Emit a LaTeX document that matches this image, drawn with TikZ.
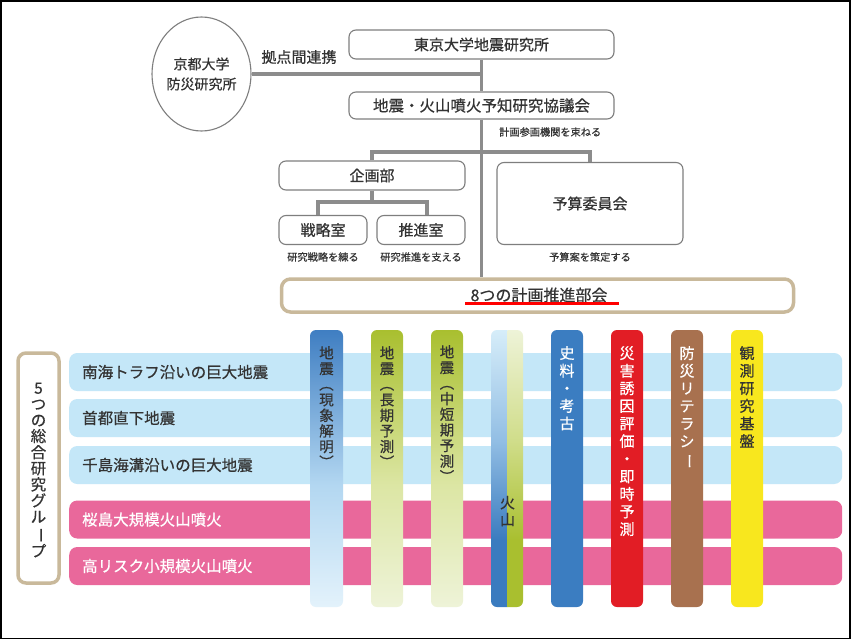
\documentclass[tikz,border=0pt]{standalone}
\usepackage{fontspec}
\setmainfont{Noto Sans CJK JP}[FakeBold=0.6]
\usepackage{graphicx}
\usetikzlibrary{shapes.geometric}
\definecolor{txt}{HTML}{333333}
\definecolor{boxgray}{HTML}{7E7E7E}
\definecolor{conngray}{HTML}{8C8C8C}
\definecolor{tanc}{HTML}{C9B99B}
\definecolor{rowblue}{HTML}{C4E7F8}
\definecolor{rowpink}{HTML}{E9689B}
\definecolor{cAtop}{HTML}{3F7EC2}
\definecolor{cAmid}{HTML}{B3D7F1}
\definecolor{cAbot}{HTML}{E3F2FB}
\definecolor{gTop}{HTML}{A9BF2F}
\definecolor{gMid}{HTML}{DCE6A4}
\definecolor{gBot}{HTML}{EEF3D8}
\definecolor{vBlue}{HTML}{3A7BBF}
\definecolor{vBmid}{HTML}{92BEE4}
\definecolor{vBtop}{HTML}{D6EDF9}
\definecolor{vGmid}{HTML}{D0DD8A}
\definecolor{cE}{HTML}{3B7DC1}
\definecolor{cF}{HTML}{E21D25}
\definecolor{cG}{HTML}{A8714F}
\definecolor{cH}{HTML}{F8E71E}
% path is fitted to the 25bp..75bp band of a shading
\pgfdeclareverticalshading{shA}{100bp}{color(0bp)=(cAbot); color(25bp)=(cAbot); color(47bp)=(cAmid); color(75bp)=(cAtop); color(100bp)=(cAtop)}
\pgfdeclareverticalshading{shG}{100bp}{color(0bp)=(gBot); color(25bp)=(gBot); color(47bp)=(gMid); color(75bp)=(gTop); color(100bp)=(gTop)}
\pgfdeclareverticalshading{shVL}{100bp}{color(0bp)=(vBlue); color(37bp)=(vBlue); color(55bp)=(vBmid); color(75bp)=(vBtop); color(100bp)=(vBtop)}
\pgfdeclareverticalshading{shVR}{100bp}{color(0bp)=(gTop); color(37bp)=(gTop); color(55bp)=(vGmid); color(75bp)=(gBot); color(100bp)=(gBot)}
\newcommand\tpl{\rotatebox[origin=c]{-90}{（}}
\newcommand\tpr{\rotatebox[origin=c]{-90}{）}}
\newcommand\tbar{\rotatebox[origin=c]{-90}{ー}}
\begin{document}
\begin{tikzpicture}[x=1pt,y=-1pt,
  box/.style={draw=boxgray, line width=1.1pt, rounded corners=7pt, fill=white, inner sep=0pt, text=txt, font=\fontsize{15}{18}\selectfont},
  conn/.style={draw=conngray, line width=3.2pt},
  note/.style={inner sep=0pt, text=txt, font=\fontsize{10.2}{12}\selectfont},
  tanbox/.style={draw=tanc, line width=3.5pt, rounded corners=9pt, fill=white, inner sep=0pt},
  row/.style={rounded corners=8pt, minimum height=38pt, minimum width=773pt, anchor=west, inner xsep=13pt, inner ysep=0pt, text width=747pt, align=left, font=\fontsize{15.5}{18}\selectfont},
  vcolA/.style={inner sep=0pt, align=center, anchor=north, font=\fontsize{14.5}{15.6}\selectfont},
  vcolB/.style={inner sep=0pt, align=center, anchor=north, font=\fontsize{15}{17.6}\selectfont}
]
\useasboundingbox (0,0) rectangle (853,640);
\fill[white] (0,0) rectangle (853,640);
\draw[black, line width=1.6pt] (0.8,0.8) rectangle (850,638.4);

% top organisation
\node[box, minimum width=265pt, minimum height=29pt] (tokyo) at (481.5,44.5) {東京大学地震研究所};
\node[box, minimum width=265pt, minimum height=27pt, font=\fontsize{15.5}{18}\selectfont] (kyogi) at (481.5,105.5) {地震・火山噴火予知研究協議会};
\node[draw=boxgray, line width=1.1pt, ellipse, minimum width=97pt, minimum height=114pt, inner sep=0pt, align=center, text=txt, font=\fontsize{14}{20}\selectfont] (kyoto) at (201.5,74) {京都大学\\防災研究所};
\node[inner sep=0pt, text=txt, font=\fontsize{15}{18}\selectfont] (renkei) at (299,57) {拠点間連携};
\node[note, anchor=west] (n1) at (499,132) {計画参画機関を束ねる};

\node[box, minimum width=186pt, minimum height=29pt] (kikaku) at (372,175.5) {企画部};
\node[box, minimum width=88pt, minimum height=29pt] (senryaku) at (323,230) {戦略室};
\node[box, minimum width=88pt, minimum height=29pt] (suishin) at (421,230) {推進室};
\node[box, minimum width=186pt, minimum height=82pt] (yosan) at (590,203.5) {予算委員会};
\node[note] (n2) at (323,257) {研究戦略を練る};
\node[note] (n3) at (421,257) {研究推進を支える};
\node[note] (n4) at (590,257) {予算案を策定する};

\node[tanbox, minimum width=512pt, minimum height=33pt] (bukai) at (537.5,295.5) {};
\node[inner sep=0pt, text=txt, font=\fontsize{16}{18}\selectfont] (bukaitxt) at (539,295) {8つの計画推進部会};
\draw[red, line width=3.5pt] (465,303.5) -- (619,303.5);

% connectors
\coordinate (br) at (481.5,152);
\coordinate (sb) at (372,202);
\draw[conn] (kyoto.east) -- (kyoto.east -| tokyo.south);
\draw[conn] (tokyo.south) -- (kyogi.north);
\draw[conn] (kyogi.south) -- (kyogi.south |- bukai.north);
\draw[conn] (kikaku.north) |- (br) -| (yosan.north);
\draw[conn] (kikaku.south) -- (sb);
\draw[conn] ([xshift=-5pt]senryaku.north) |- (sb) -| ([xshift=6pt]suishin.north);

% group label
\node[tanbox, rounded corners=8pt, minimum width=41pt, minimum height=230pt] (grp) at (38.5,468) {};
\node[inner sep=0pt, align=center, text=txt, font=\fontsize{15.5}{16.1}\selectfont] (grptxt) at (38.5,470) {5\\つ\\の\\総\\合\\研\\究\\グ\\ル\\\tbar\\プ};

% rows
\node[row, fill=rowblue, text=txt] (r1) at (69,372) {南海トラフ沿いの巨大地震};
\node[row, fill=rowblue, text=txt] (r2) at (69,418) {首都直下地震};
\node[row, fill=rowblue, text=txt] (r3) at (69,465) {千島海溝沿いの巨大地震};
\node[row, fill=rowpink, text=white] (r4) at (69,519.5) {桜島大規模火山噴火};
\node[row, fill=rowpink, text=white] (r5) at (69,566) {高リスク小規模火山噴火};

% columns
\shade[shading=shA, rounded corners=6pt] (310,330) rectangle (343,607);
\shade[shading=shG, rounded corners=6pt] (371,330) rectangle (403,607);
\shade[shading=shG, rounded corners=6pt] (431,330) rectangle (463,607);
\begin{scope}
  \clip[rounded corners=6pt] (491,330) rectangle (523,607);
  \shade[shading=shVL] (490,330) rectangle (507.5,607);
  \shade[shading=shVR] (507.5,330) rectangle (524,607);
\end{scope}
\fill[cE, rounded corners=6pt] (551,330) rectangle (583,607);
\fill[cF, rounded corners=6pt] (611,330) rectangle (643,607);
\fill[cG, rounded corners=6pt] (671,330) rectangle (703,607);
\fill[cH, rounded corners=6pt] (731,330) rectangle (763,607);

\node[vcolA, text=txt] (c1) at (326.5,346) {地\\震\\\tpl\\現\\象\\解\\明\\\tpr};
\node[vcolA, text=txt] (c2) at (387,346) {地\\震\\\tpl\\長\\期\\予\\測\\\tpr};
\node[vcolA, text=txt] (c3) at (447,345) {地\\震\\\tpl\\中\\短\\期\\予\\測\\\tpr};
\node[inner sep=0pt, align=center, text=txt, font=\fontsize{15}{17}\selectfont] (c4) at (507.5,511) {火\\山};
\node[vcolB, text=white] (c5) at (567,346) {史\\料\\・\\考\\古};
\node[vcolB, text=white] (c6) at (627,346) {災\\害\\誘\\因\\評\\価\\・\\即\\時\\予\\測};
\node[vcolB, text=white] (c7) at (687,346) {防\\災\\リ\\テ\\ラ\\シ\\\tbar};
\node[vcolB, text=txt] (c8) at (747,346) {観\\測\\研\\究\\基\\盤};
\end{tikzpicture}
\end{document}
